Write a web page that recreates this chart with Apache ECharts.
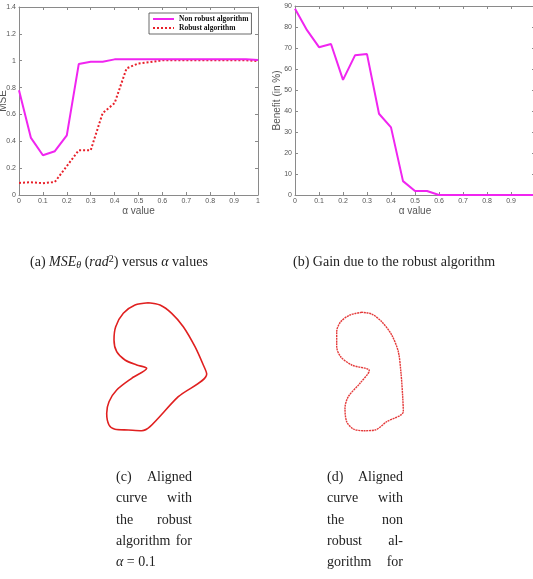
<!DOCTYPE html>
<html><head><meta charset="utf-8">
<script src="https://cdn.jsdelivr.net/npm/echarts@6/dist/echarts.min.js"></script>
<style>html,body{margin:0;padding:0;background:#fff}#c{width:533px;height:579px}</style>
</head><body><div id="c"></div>
<script>
// ---- data ----
const alpha = [0,0.05,0.1,0.15,0.2,0.25,0.3,0.35,0.4,0.45,0.5,0.55,0.6,0.65,0.7,0.75,0.8,0.85,0.9,0.95,1];
const nonRobust = [0.78,0.425,0.296,0.326,0.444,0.975,0.993,0.993,1.01,1.01,1.01,1.01,1.01,1.01,1.01,1.01,1.01,1.01,1.01,1.01,1.005];
const robust = [0.09,0.095,0.088,0.097,0.215,0.333,0.333,0.61,0.684,0.943,0.98,0.99,1.003,1.003,1.003,1.003,1.003,1.003,1.003,1.003,0.998];
const benefit = [88.7,78.5,70.4,71.9,54.8,66.5,67.1,38.7,32.2,6.6,1.9,1.9,0,0,0,0,0,0,0,0,0];
// aligned curves (picture units)
const curveCx = [148.3,135,123.3,115.7,114,116.7,125,136.7,146.7,131.7,116.7,109,106.7,109,115,128.3,141.7,150,178.3,206.7,203.3,195,183.3,171.7,160,148.3];
const curveCy = [302.7,305,313.3,326.7,340,351.7,360,365,368.3,378.3,390,401.7,413.3,425,429.3,430,430.7,426.7,396.7,374,365,346.7,326.7,313.3,305,302.7];
const curveDx = [361.7,350,340.7,336.7,336.7,340.7,351.7,369.3,360,348.3,345,346.7,353.3,363.3,375,386.7,403.3,402.7,401,398.3,391.7,381.7,371.7,361.7];
const curveDy = [312.3,315,321.7,331.7,346.7,356.7,365,370.7,383.3,396.7,408.3,421.7,429,430.7,430,421.7,411.7,396.7,373.3,351.7,335,321.7,314,312.3];
const seriesNames = ['Non robust algorithm','Robust algorithm'];

const pair = (xs, ys) => xs.map((x, i) => [x, ys[i]]);

const AX = '#8a8a8a', LBL = '#555';
const labelFont = {fontFamily:'Liberation Sans', fontSize:7, color:LBL};
function mainAxis(gridIndex, opts) {
  return Object.assign({
    gridIndex, type:'value', splitLine:{show:false},
    axisLine:{show:true, lineStyle:{color:AX, width:1}},
    axisTick:{show:true, inside:true, length:3, lineStyle:{color:AX}},
    axisLabel:Object.assign({margin:3}, labelFont),
    nameMoveOverlap:false,
    nameTextStyle:{fontFamily:'Liberation Sans', fontSize:10, color:LBL}
  }, opts);
}
function boxAxis(gridIndex, pos, min, max, interval) {
  return {gridIndex, type:'value', position:pos, min, max, interval,
    splitLine:{show:false}, axisLabel:{show:false},
    axisLine:{show:true, onZero:false, lineStyle:{color:AX, width:1}},
    axisTick:{show:true, inside:true, length:3, lineStyle:{color:AX}}};
}
function hiddenAxis(gridIndex, min, max, inverse) {
  return {gridIndex, type:'value', min, max, inverse:!!inverse, show:false, splitLine:{show:false}};
}

const serif = 'Liberation Serif';
const FS = 14;
const capRich = {
  n:{fontFamily:serif, fontSize:FS, color:'#222'},
  i:{fontFamily:serif, fontSize:FS, fontStyle:'italic', color:'#222'},
  s:{fontFamily:serif, fontSize:10, fontStyle:'italic', color:'#222', padding:[6,0,0,0]},
  p:{fontFamily:serif, fontSize:10, color:'#222', padding:[0,0,6,0]}
};
function capText(x, y, text, align) {
  return {type:'text', x, y, style:{text, align:align||'left', verticalAlign:'middle', rich:capRich, fill:'#222', font:FS + 'px "Liberation Serif"'}};
}
const colLines = [477, 498.5, 520, 541, 562];
const captions = [
  capText(30, 262, '{n|(a) }{i|MSE}{s|θ}{n| (}{i|rad}{p|2}{n|) versus }{i|α}{n| values}'),
  capText(293, 262, '{n|(b) Gain due to the robust algorithm}'),
  capText(116, colLines[0], '{n|(c)}'), capText(192, colLines[0], '{n|Aligned}', 'right'),
  capText(116, colLines[1], '{n|curve}'), capText(192, colLines[1], '{n|with}', 'right'),
  capText(116, colLines[2], '{n|the}'), capText(192, colLines[2], '{n|robust}', 'right'),
  capText(116, colLines[3], '{n|algorithm}'), capText(192, colLines[3], '{n|for}', 'right'),
  capText(116, colLines[4], '{i|α}{n| = 0.1}'),
  capText(327, colLines[0], '{n|(d)}'), capText(403, colLines[0], '{n|Aligned}', 'right'),
  capText(327, colLines[1], '{n|curve}'), capText(403, colLines[1], '{n|with}', 'right'),
  capText(327, colLines[2], '{n|the}'), capText(403, colLines[2], '{n|non}', 'right'),
  capText(327, colLines[3], '{n|robust}'), capText(403, colLines[3], '{n|al-}', 'right'),
  capText(327, colLines[4], '{n|gorithm}'), capText(403, colLines[4], '{n|for}', 'right')
];

const chart = echarts.init(document.getElementById('c'), null, {renderer:'canvas'});
chart.setOption({
  animation:false,
  backgroundColor:'#fff',
  grid:[
    {left:19, top:7, width:239, height:188, outerBoundsMode:'none', containLabel:false},
    {left:295, top:6, width:240, height:189, outerBoundsMode:'none', containLabel:false},
    {left:100, top:295, width:120, height:145, outerBoundsMode:'none'},
    {left:330, top:305, width:80, height:130, outerBoundsMode:'none'}
  ],
  xAxis:[
    mainAxis(0, {min:0, max:1, interval:0.1, name:'α value', nameLocation:'middle', nameGap:11}),
    boxAxis(0, 'top', 0, 1, 0.1),
    mainAxis(1, {min:0, max:1, interval:0.1, name:'α value', nameLocation:'middle', nameGap:11}),
    boxAxis(1, 'top', 0, 1, 0.1),
    hiddenAxis(2, 100, 220),
    hiddenAxis(3, 330, 410)
  ],
  yAxis:[
    mainAxis(0, {min:0, max:1.4, interval:0.2, name:'MSE', nameLocation:'middle', nameGap:11}),
    boxAxis(0, 'right', 0, 1.4, 0.2),
    mainAxis(1, {min:0, max:90, interval:10, name:'Benefit (in %)', nameLocation:'middle', nameGap:13}),
    boxAxis(1, 'right', 0, 90, 10),
    hiddenAxis(2, 295, 440, true),
    hiddenAxis(3, 305, 435, true)
  ],
  legend:{
    data:seriesNames, orient:'vertical', left:149, top:13,
    itemWidth:21, itemHeight:8, itemGap:1, itemTextGap:4, padding:[2,3,2,3],
    backgroundColor:'#fff', borderColor:'#444', borderWidth:0.8, borderRadius:0,
    selectedMode:false,
    itemStyle:{color:'rgba(0,0,0,0)', borderColor:'rgba(0,0,0,0)', borderWidth:0, opacity:0},
    textStyle:{fontFamily:serif, fontWeight:'bold', fontSize:7.5, color:'#111'}
  },
  series:[
    {name:seriesNames[0], type:'line', xAxisIndex:0, yAxisIndex:0, symbol:'none',
     data:pair(alpha, nonRobust), lineStyle:{color:'#f025f0', width:2}, itemStyle:{color:'#f025f0'}, z:3},
    {name:seriesNames[1], type:'line', xAxisIndex:0, yAxisIndex:0, symbol:'none',
     data:pair(alpha, robust), lineStyle:{color:'#e8202a', width:2, type:[2,2]}, itemStyle:{color:'#e8202a'}, z:2},
    {name:'Benefit', type:'line', xAxisIndex:2, yAxisIndex:2, symbol:'none',
     data:pair(alpha, benefit), lineStyle:{color:'#f025f0', width:2}},
    {name:'Curve c', type:'line', xAxisIndex:4, yAxisIndex:4, symbol:'none', smooth:0.3,
     data:pair(curveCx, curveCy), lineStyle:{color:'#e02020', width:1.6}},
    {name:'Curve d', type:'line', xAxisIndex:5, yAxisIndex:5, symbol:'none', smooth:0.3,
     data:pair(curveDx, curveDy), lineStyle:{color:'#e43a3a', width:1.4, type:[2,0.7]}}
  ],
  graphic:captions
});
</script></body></html>
